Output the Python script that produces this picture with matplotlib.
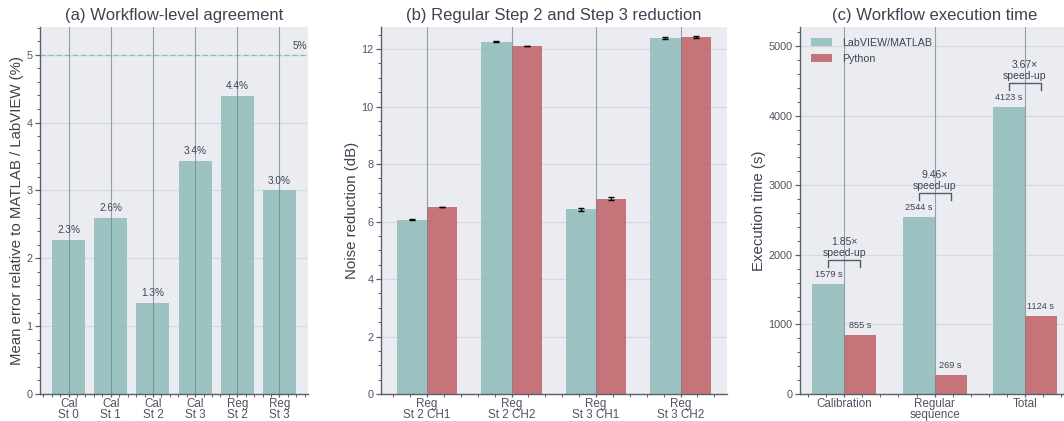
import matplotlib
matplotlib.use("Agg")
import matplotlib.pyplot as plt
from matplotlib.patches import Patch
from matplotlib.ticker import AutoMinorLocator
import numpy as np

# ---- data ----
agree_labels = ["Cal\nSt 0", "Cal\nSt 1", "Cal\nSt 2", "Cal\nSt 3", "Reg\nSt 2", "Reg\nSt 3"]
agree_err = [2.27, 2.59, 1.34, 3.44, 4.39, 3.00]
tolerance = 5.0

noise_labels = ["Reg\nSt 2 CH1", "Reg\nSt 2 CH2", "Reg\nSt 3 CH1", "Reg\nSt 3 CH2"]
noise_ref = [6.07, 12.26, 6.42, 12.39]
noise_ref_sd = [0.01, 0.01, 0.06, 0.04]
noise_py = [6.51, 12.10, 6.80, 12.43]
noise_py_sd = [0.01, 0.01, 0.06, 0.04]

time_labels = ["Calibration", "Regular\nsequence", "Total"]
time_ref = [1579, 2544, 4123]
time_py = [855, 269, 1124]

# ---- style ----
TEAL = "#8fbcb9"
RED = "#c05e65"
BG = "#eaecf2"
TXT = "#3f4350"
TICK = "#4f5460"
plt.rcParams.update({
    "font.family": ["Liberation Sans", "DejaVu Sans"],
    "axes.facecolor": BG,
    "axes.edgecolor": "#5a5f6b",
    "xtick.color": "#5a5f6b",
    "ytick.color": "#5a5f6b",
    "xtick.labelcolor": TICK,
    "ytick.labelcolor": TICK,
    "xtick.labelsize": 8.4,
    "ytick.labelsize": 7.8,
    "axes.titlesize": 12,
    "axes.titlecolor": TXT,
    "axes.labelsize": 10.8,
    "axes.labelcolor": TXT,
})

fig = plt.figure(figsize=(10.64, 4.21), dpi=100)
bottom, height = 0.064, 0.872
ax_a = fig.add_axes([0.0376, bottom, 0.2519, height])
ax_b = fig.add_axes([0.358, bottom, 0.325, height])
ax_c = fig.add_axes([0.752, bottom, 0.2527, height])


def style_axes(ax, xpos):
    ax.set_axisbelow(True)
    for s in ("top", "right"):
        ax.spines[s].set_visible(False)
    ax.spines["left"].set_linewidth(1.0)
    ax.spines["bottom"].set_linewidth(1.0)
    ax.grid(axis="y", color="#d6d9e0", linewidth=0.9)
    ax.grid(axis="x", visible=False)
    for x in xpos:
        ax.axvline(x, color="#7d818c", linewidth=0.8, alpha=0.75, zorder=2.5)
    ax.yaxis.set_minor_locator(AutoMinorLocator())
    ax.xaxis.set_minor_locator(AutoMinorLocator())
    ax.tick_params(which="major", direction="out", length=3.5, width=0.9)
    ax.tick_params(which="minor", direction="out", length=2.2, width=0.7)
    ax.tick_params(axis="y", which="major", pad=2)
    ax.tick_params(axis="x", which="major", length=2.5, pad=0.3)
    for lbl in ax.get_xticklabels():
        lbl.set_linespacing(0.9)


# ---- (a) agreement ----
xa = np.arange(len(agree_labels))
ax_a.bar(xa, agree_err, width=0.78, color=TEAL, alpha=0.85, zorder=2)
for x, v in zip(xa, agree_err):
    ax_a.annotate(f"{v:.1f}%", (x, v), xytext=(0, 3.5), textcoords="offset points",
                  ha="center", va="bottom", fontsize=7.2, color=TXT)
ax_a.axhline(tolerance, color="#7cc4b6", linestyle=(0, (4, 2.5)), linewidth=0.9, zorder=1.5)
ax_a.text(0.995, tolerance + 0.06, f"{tolerance:.0f}%", transform=ax_a.get_yaxis_transform(),
          ha="right", va="bottom", fontsize=7.2, color=TXT)
ax_a.set_xticks(xa, agree_labels)
ax_a.set_ylim(0, 5.41)
ax_a.set_yticks(range(0, 6))
style_axes(ax_a, xa)
ax_a.set_ylabel("Mean error relative to MATLAB / LabVIEW (%)")
ax_a.yaxis.set_label_coords(-0.06, 0.5)
ax_a.set_title("(a) Workflow-level agreement", pad=5)

# ---- (b) noise reduction ----
w = 0.36
xb = np.arange(len(noise_labels))
ax_b.bar(xb - w / 2, noise_ref, width=w, color=TEAL, alpha=0.85, zorder=2)
ax_b.bar(xb + w / 2, noise_py, width=w, color=RED, alpha=0.85, zorder=2)
ax_b.errorbar(xb - w / 2, noise_ref, yerr=noise_ref_sd, fmt="none", ecolor="black",
              elinewidth=1.0, capsize=2.5, capthick=1.0, zorder=4)
ax_b.errorbar(xb + w / 2, noise_py, yerr=noise_py_sd, fmt="none", ecolor="black",
              elinewidth=1.0, capsize=2.5, capthick=1.0, zorder=4)
ax_b.set_xticks(xb, noise_labels)
ax_b.set_ylim(0, 12.77)
ax_b.set_yticks(range(0, 13, 2))
style_axes(ax_b, xb)
ax_b.set_ylabel("Noise reduction (dB)")
ax_b.yaxis.set_label_coords(-0.064, 0.5)
ax_b.set_title("(b) Regular Step 2 and Step 3 reduction", pad=5)

# ---- (c) execution time ----
wc = 0.355
xc = np.arange(len(time_labels))
ax_c.bar(xc - wc / 2, time_ref, width=wc, color=TEAL, alpha=0.85, zorder=2)
ax_c.bar(xc + wc / 2, time_py, width=wc, color=RED, alpha=0.85, zorder=2)
for x, r, p in zip(xc, time_ref, time_py):
    ax_c.annotate(f"{r} s", (x - wc / 2, r), xytext=(0, 3.5), textcoords="offset points",
                  ha="center", va="bottom", fontsize=6.6, color=TXT)
    ax_c.annotate(f"{p} s", (x + wc / 2, p), xytext=(0, 3.5), textcoords="offset points",
                  ha="center", va="bottom", fontsize=6.6, color=TXT)
    top = max(r, p) + 350
    ax_c.plot([x - wc / 2, x - wc / 2, x + wc / 2, x + wc / 2],
              [top - 100, top, top, top - 100], color="#555a66", linewidth=1.0, zorder=4)
    ax_c.annotate(f"{r / p:.2f}×\nspeed-up", (x, top), xytext=(0, 1.5),
                  textcoords="offset points", ha="center", va="bottom",
                  fontsize=7.5, color=TXT, linespacing=1.05)
ax_c.set_xticks(xc, time_labels)
ax_c.set_xlim(-0.49, 2.49)
ax_c.set_ylim(0, 5275)
ax_c.set_yticks(range(0, 5001, 1000))
style_axes(ax_c, xc)
ax_c.set_ylabel("Execution time (s)")
ax_c.yaxis.set_label_coords(-0.126, 0.5)
ax_c.set_title("(c) Workflow execution time", pad=5)
ax_c.legend(handles=[Patch(facecolor=TEAL, alpha=0.85, label="LabVIEW/MATLAB"),
                     Patch(facecolor=RED, alpha=0.85, label="Python")],
            loc="upper left", frameon=False, fontsize=7.7, handlelength=2.0,
            handleheight=0.75, handletextpad=0.9, labelspacing=0.55,
            labelcolor=TXT, borderaxespad=0.6)

fig.savefig("out.png", dpi=100)
